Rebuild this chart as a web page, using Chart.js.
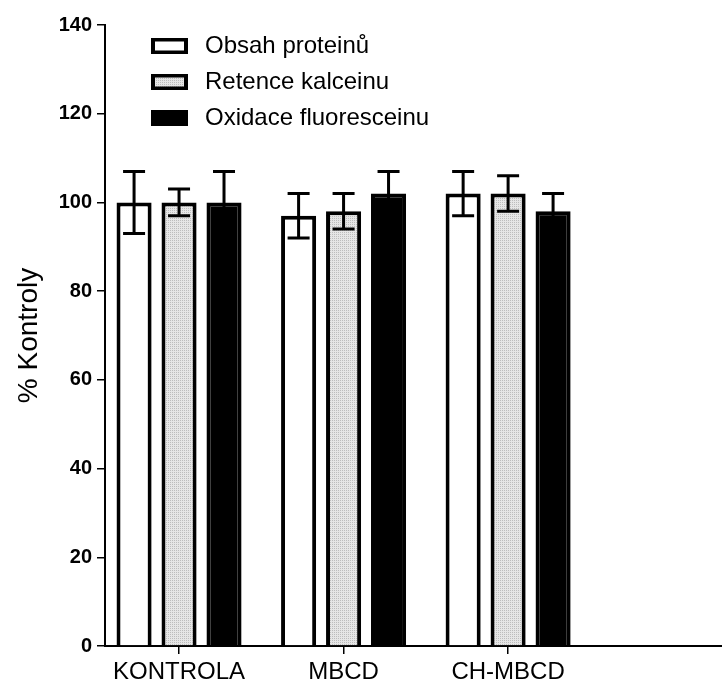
<!DOCTYPE html>
<html>
<head>
<meta charset="utf-8">
<script src="https://cdn.jsdelivr.net/npm/chart.js@4"></script>
<style>
  body { margin: 0; background: #fff; }
  canvas { display: block; }
</style>
</head>
<body>
<canvas id="chart" width="722" height="686"></canvas>
<script>
const categories = ['KONTROLA', 'MBCD', 'CH-MBCD'];
const seriesNames = ['Obsah proteinů', 'Retence kalceinu', 'Oxidace fluoresceinu'];
const obsah = [100, 97, 102];
const obsahErr = [7, 5, 5];
const retence = [100, 98, 102];
const retenceErr = [3, 4, 4];
const oxidace = [100, 102, 98];
const oxidaceErr = [7, 5, 4];
const yTicks = [0, 20, 40, 60, 80, 100, 120, 140];

// dotted light grey fill like the original
function dotPattern() {
  const c = document.createElement('canvas');
  c.width = 2; c.height = 2;
  const g = c.getContext('2d');
  g.fillStyle = '#e6e6e6'; g.fillRect(0, 0, 2, 2);
  g.fillStyle = '#bdbdbd'; g.fillRect(0, 0, 1, 1);
  return g.createPattern(c, 'repeat');
}

const ctx = document.getElementById('chart');
const grey = dotPattern();

const toPoints = arr => arr.map((v, i) => ({ x: i, y: v }));

const errorBars = {
  id: 'errorBars',
  afterDatasetsDraw(chart) {
    const g = chart.ctx;
    const y = chart.scales.y;
    const errs = [obsahErr, retenceErr, oxidaceErr];
    g.save();
    g.strokeStyle = '#000';
    g.lineWidth = 3;
    chart.data.datasets.forEach((ds, d) => {
      chart.getDatasetMeta(d).data.forEach((bar, i) => {
        const v = ds.data[i].y;
        const hi = y.getPixelForValue(v + errs[d][i]);
        const lo = y.getPixelForValue(v - errs[d][i]);
        g.beginPath();
        g.moveTo(bar.x, hi); g.lineTo(bar.x, lo);
        g.moveTo(bar.x - 11, hi); g.lineTo(bar.x + 11, hi);
        g.moveTo(bar.x - 11, lo); g.lineTo(bar.x + 11, lo);
        g.stroke();
      });
    });
    g.restore();
  }
};

const legendBox = {
  id: 'legendBox',
  afterDraw(chart) {
    const g = chart.ctx;
    const fills = ['#fff', grey, '#000'];
    const rows = [46, 82, 118];
    g.save();
    g.font = '24px "Liberation Sans", Arial, sans-serif';
    g.textBaseline = 'middle';
    rows.forEach((ry, i) => {
      g.fillStyle = '#000';
      g.fillRect(151, ry - 8, 37, 16);
      g.fillStyle = fills[i];
      g.fillRect(155, ry - 4.5, 29, 9);
      g.fillStyle = '#000';
      g.fillText(seriesNames[i], 205, ry);
    });
    g.restore();
  }
};

new Chart(ctx, {
  type: 'bar',
  data: {
    datasets: [
      { label: seriesNames[0], data: toPoints(obsah), backgroundColor: '#fff', borderColor: '#000', borderWidth: 4 },
      { label: seriesNames[1], data: toPoints(retence), backgroundColor: grey, borderColor: '#000', borderWidth: 4 },
      { label: seriesNames[2], data: toPoints(oxidace), backgroundColor: '#000', borderColor: '#000', borderWidth: 4 }
    ]
  },
  options: {
    responsive: false,
    animation: false,
    layout: { padding: { top: 25, right: 0, left: 0, bottom: 0 } },
    categoryPercentage: 0.82,
    barPercentage: 0.78,
    plugins: { legend: { display: false }, tooltip: { enabled: false } },
    scales: {
      x: {
        type: 'linear',
        offset: false,
        min: -0.45,
        max: 3.3,
        afterBuildTicks: s => { s.ticks = categories.map((c, i) => ({ value: i })); },
        afterFit: s => { s.height = 40; },
        ticks: {
          color: '#000',
          padding: 4,
          maxRotation: 0,
          autoSkip: false,
          font: { family: '"Liberation Sans", Arial, sans-serif', size: 24 },
          callback: v => categories[v]
        },
        grid: { offset: false, drawOnChartArea: false, drawTicks: true, tickLength: 8, color: '#000', lineWidth: 1.5 },
        border: { display: true, color: '#000', width: 2 }
      },
      y: {
        min: 0,
        max: 140,
        afterBuildTicks: s => { s.ticks = yTicks.map(v => ({ value: v })); },
        afterFit: s => { s.width = 105; },
        ticks: {
          color: '#000',
          padding: 5,
          font: { family: '"Liberation Sans", Arial, sans-serif', size: 20, weight: 'bold' }
        },
        grid: { drawOnChartArea: false, drawTicks: true, tickLength: 8, color: '#000', lineWidth: 1.5 },
        border: { display: true, color: '#000', width: 2 },
        title: {
          display: true,
          text: '% Kontroly',
          color: '#000',
          padding: { top: 12, bottom: 0 },
          font: { family: '"Liberation Sans", Arial, sans-serif', size: 28 }
        }
      }
    }
  },
  plugins: [errorBars, legendBox]
});
</script>
</body>
</html>
